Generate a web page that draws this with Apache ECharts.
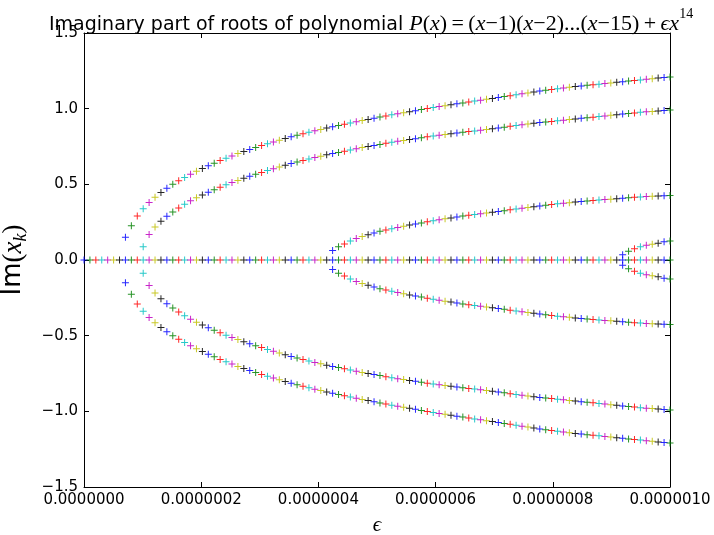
<!DOCTYPE html>
<html>
<head>
<meta charset="utf-8">
<title>Imaginary part of roots</title>
<script src="https://cdn.jsdelivr.net/npm/echarts@6/dist/echarts.min.js"></script>
<style>
  html, body { margin: 0; padding: 0; background: #fff; }
  #my_chart { width: 714px; height: 535px; }
</style>
</head>
<body>
<div id="my_chart"></div>
<script>
// epsilon grid: 100 samples from 0 to 1e-6
var nEps = 100;
var epsMax = 1e-6;

// x tick labels
var xTicks = ['0.0000000', '0.0000002', '0.0000004', '0.0000006', '0.0000008', '0.0000010'];

// imaginary parts (upper branch), branch starts at index firstX
var firstA = 7;
var imA = [0.150, 0.227, 0.290, 0.338, 0.380, 0.415, 0.446, 0.474, 0.500, 0.523,
    0.545, 0.566, 0.586, 0.605, 0.623, 0.640, 0.657, 0.673, 0.688, 0.703,
    0.717, 0.730, 0.743, 0.756, 0.768, 0.780, 0.792, 0.803, 0.814, 0.824,
    0.834, 0.844, 0.854, 0.863, 0.872, 0.881, 0.889, 0.897, 0.905, 0.913,
    0.921, 0.929, 0.937, 0.945, 0.952, 0.959, 0.966, 0.973, 0.980, 0.987,
    0.994, 1.001, 1.008, 1.014, 1.020, 1.026, 1.032, 1.038, 1.044, 1.050,
    1.056, 1.062, 1.068, 1.074, 1.080, 1.086, 1.092, 1.098, 1.104, 1.110,
    1.116, 1.121, 1.126, 1.131, 1.136, 1.141, 1.146, 1.150, 1.154, 1.158,
    1.162, 1.166, 1.170, 1.174, 1.178, 1.182, 1.186, 1.190, 1.194, 1.198,
    1.202, 1.206, 1.210];

var firstB = 10;
var imB = [0.088, 0.168, 0.218, 0.256, 0.289, 0.317, 0.344, 0.369, 0.391, 0.411,
    0.430, 0.448, 0.465, 0.481, 0.497, 0.512, 0.526, 0.540, 0.553, 0.566,
    0.579, 0.591, 0.603, 0.615, 0.626, 0.637, 0.647, 0.657, 0.667, 0.677,
    0.686, 0.695, 0.703, 0.711, 0.719, 0.727, 0.735, 0.743, 0.750, 0.757,
    0.764, 0.771, 0.778, 0.784, 0.790, 0.796, 0.802, 0.808, 0.814, 0.819,
    0.824, 0.829, 0.834, 0.839, 0.844, 0.849, 0.853, 0.858, 0.863, 0.868,
    0.873, 0.878, 0.883, 0.888, 0.893, 0.898, 0.903, 0.908, 0.912, 0.916,
    0.920, 0.924, 0.928, 0.932, 0.936, 0.940, 0.944, 0.948, 0.952, 0.956,
    0.960, 0.964, 0.968, 0.972, 0.976, 0.979, 0.982, 0.985, 0.988, 0.991];

var firstC = 42;
var imC = [0.062, 0.088, 0.106, 0.126, 0.142, 0.155, 0.167, 0.178, 0.190, 0.199,
    0.207, 0.215, 0.223, 0.231, 0.238, 0.245, 0.252, 0.259, 0.266, 0.272,
    0.278, 0.284, 0.290, 0.295, 0.300, 0.305, 0.310, 0.315, 0.320, 0.326,
    0.332, 0.337, 0.342, 0.347, 0.352, 0.357, 0.362, 0.367, 0.371, 0.375,
    0.379, 0.383, 0.387, 0.390, 0.393, 0.396, 0.399, 0.402, 0.405, 0.408,
    0.411, 0.414, 0.417, 0.419, 0.421, 0.423, 0.425, 0.427];

var firstD = 91;
var imD = [0.035, 0.058, 0.075, 0.087, 0.097, 0.104, 0.111, 0.120, 0.126];

// matplotlib classic colour cycle, one colour per epsilon
var palette = ['#0000ff', '#008000', '#ff0000', '#00bfbf', '#bf00bf', '#bfbf00', '#000000'];

var branches = [[firstA, imA], [firstB, imB], [firstC, imC], [firstD, imD]];

// points in drawing order: each epsilon drawn after the previous one
var points = [];
for (var i = 0; i < nEps; i++) {
    var eps = i * epsMax / (nEps - 1);
    points.push([eps, 0, i]);
    branches.forEach(function (b) {
        var k = i - b[0];
        if (k >= 0 && k < b[1].length) {
            points.push([eps, b[1][k], i]);
            points.push([eps, -b[1][k], i]);
        }
    });
}

var plusPath = 'path://M3,0L4,0L4,3L7,3L7,4L4,4L4,7L3,7L3,4L0,4L0,3L3,3Z';
var tickFont = {color: '#000', fontSize: 15, fontFamily: 'DejaVu Sans'};
var frameLine = {show: true, onZero: false, lineStyle: {color: '#000', width: 1}};
var frameTick = {inside: true, length: 5, lineStyle: {color: '#000'}};

var myChart = echarts.init(document.getElementById('my_chart'));
var option = {
    animation: false,
    title: {
        text: '{n|Imaginary part of roots of polynomial }{i|P}{r|(}{i|x}{r|)\u2009=\u2009(}{i|x}{r|\u22121)(}{i|x}{r|\u22122)...(}{i|x}{r|\u221215)\u2009+\u2009}{i|\u03f5x}{s|14}',
        left: 44,
        top: 2,
        textStyle: {
            fontWeight: 'normal',
            rich: {
                n: {fontSize: 19, fontWeight: 'normal', fontFamily: 'DejaVu Sans', color: '#000', lineHeight: 28, verticalAlign: 'bottom'},
                r: {fontSize: 22, fontWeight: 'normal', fontFamily: 'Liberation Serif', color: '#000', lineHeight: 28, verticalAlign: 'bottom'},
                i: {fontSize: 22, fontWeight: 'normal', fontFamily: 'Liberation Serif', fontStyle: 'italic', color: '#000', lineHeight: 28, verticalAlign: 'bottom'},
                s: {fontSize: 14, fontWeight: 'normal', fontFamily: 'Liberation Serif', color: '#000', lineHeight: 14, verticalAlign: 'top'}
            }
        }
    },
    grid: {left: 84, right: 44, top: 33, bottom: 48, outerBoundsMode: 'none', containLabel: false},
    xAxis: [{
        type: 'value',
        min: 0,
        max: epsMax,
        interval: 2e-7,
        name: '\u03f5',
        nameLocation: 'middle',
        nameGap: 28,
        nameTextStyle: {fontSize: 21, fontFamily: 'Liberation Serif', fontStyle: 'italic', color: '#000'},
        axisLine: frameLine,
        axisTick: frameTick,
        axisLabel: Object.assign({
            margin: 6,
            formatter: function (v) { return xTicks[Math.round(v / 2e-7)]; }
        }, tickFont),
        splitLine: {show: false}
    }, {
        type: 'value',
        position: 'top',
        min: 0,
        max: epsMax,
        interval: 2e-7,
        axisLine: frameLine,
        axisTick: frameTick,
        axisLabel: {show: false},
        splitLine: {show: false}
    }],
    yAxis: [{
        type: 'value',
        min: -1.5,
        max: 1.5,
        interval: 0.5,
        name: '{r|Im}{m|(}{i|x}{s|k}{m|)}',
        nameLocation: 'middle',
        nameGap: 46,
        nameTextStyle: {
            rich: {
                r: {fontSize: 26, fontFamily: 'DejaVu Sans', color: '#000', lineHeight: 34, verticalAlign: 'middle'},
                m: {fontSize: 27, fontFamily: 'Liberation Serif', color: '#000', lineHeight: 34, verticalAlign: 'middle'},
                i: {fontSize: 27, fontFamily: 'Liberation Serif', fontStyle: 'italic', color: '#000', lineHeight: 34, verticalAlign: 'middle'},
                s: {fontSize: 18, fontFamily: 'Liberation Serif', fontStyle: 'italic', color: '#000', lineHeight: 17, verticalAlign: 'bottom'}
            }
        },
        axisLine: frameLine,
        axisTick: frameTick,
        axisLabel: Object.assign({
            margin: 6,
            formatter: function (v) { return v.toFixed(1).replace('-', '\u2212'); }
        }, tickFont),
        splitLine: {show: false}
    }, {
        type: 'value',
        position: 'right',
        min: -1.5,
        max: 1.5,
        interval: 0.5,
        axisLine: frameLine,
        axisTick: frameTick,
        axisLabel: {show: false},
        splitLine: {show: false}
    }],
    series: [{
        type: 'scatter',
        xAxisIndex: 0,
        yAxisIndex: 0,
        symbol: plusPath,
        symbolSize: 7,
        itemStyle: {
            opacity: 0.85,
            color: function (p) { return palette[p.data[2] % palette.length]; }
        },
        data: points
    }]
};
myChart.setOption(option);
</script>
</body>
</html>
